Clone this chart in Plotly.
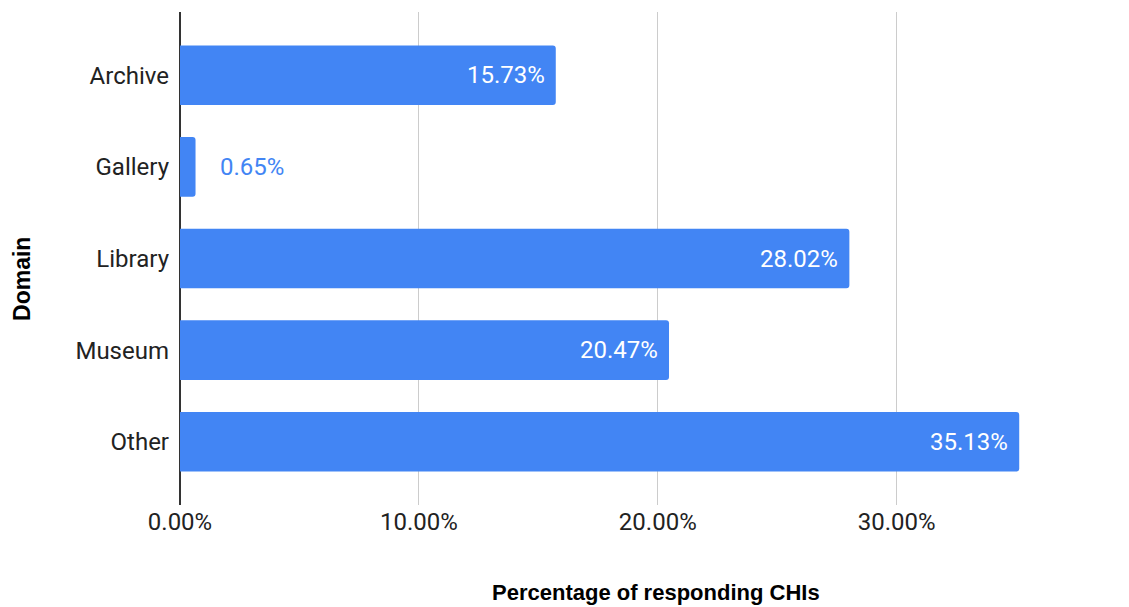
import plotly.graph_objects as go

domains = ["Archive", "Gallery", "Library", "Museum", "Other"]
shares = [15.73, 0.65, 28.02, 20.47, 35.13]
x_ticks = [0, 10, 20, 30]
x_tick_labels = ["0.00%", "10.00%", "20.00%", "30.00%"]

BAR = "#4285F4"
TICK_FONT = dict(family="Roboto", size=24, color="#222222")

fig = go.Figure(
    go.Bar(
        x=shares,
        y=domains,
        orientation="h",
        marker=dict(color=BAR, cornerradius=3, line=dict(width=0)),
        width=0.65,
        hoverinfo="skip",
    )
)

# value labels: inside the bar end, or just past it for short bars
annotations = []
for name, v in zip(domains, shares):
    label = f"{v:.2f}%"
    if v > 5:
        annotations.append(dict(
            x=v, y=name, text=label, showarrow=False, xanchor="right",
            xshift=-9, font=dict(family="Roboto", size=24, color="#ffffff"),
        ))
    else:
        annotations.append(dict(
            x=v, y=name, text=label, showarrow=False, xanchor="left",
            xshift=22, font=dict(family="Roboto", size=24, color=BAR),
        ))

annotations.append(dict(
    text="<b>Domain</b>", xref="paper", yref="paper", x=-0.184, y=0.458,
    textangle=-90, showarrow=False, xanchor="center", yanchor="middle",
    font=dict(family="Liberation Sans", size=23, color="#000000"),
))
annotations.append(dict(
    text="<b>Percentage of responding CHIs</b>", xref="paper", yref="paper",
    x=0.554, y=-0.178, showarrow=False, xanchor="center", yanchor="middle",
    font=dict(family="Liberation Sans", size=22, color="#000000"),
))

fig.update_layout(
    width=1129,
    height=607,
    margin=dict(l=180, r=89, t=12, b=102),
    paper_bgcolor="white",
    plot_bgcolor="white",
    showlegend=False,
    annotations=annotations,
    xaxis=dict(
        range=[0, 36],
        tickvals=x_ticks,
        ticktext=x_tick_labels,
        showgrid=True,
        gridcolor="#cccccc",
        gridwidth=1,
        zeroline=True,
        zerolinecolor="#333333",
        zerolinewidth=1.5,
        tickfont=TICK_FONT,
        ticks="",
        showline=False,
    ),
    yaxis=dict(
        categoryorder="array",
        categoryarray=domains,
        range=[4.69, -0.69],
        tickfont=TICK_FONT,
        ticks="",
        ticklabelstandoff=10,
        showgrid=False,
        zeroline=False,
        showline=False,
    ),
)

fig.write_html("out.html")
